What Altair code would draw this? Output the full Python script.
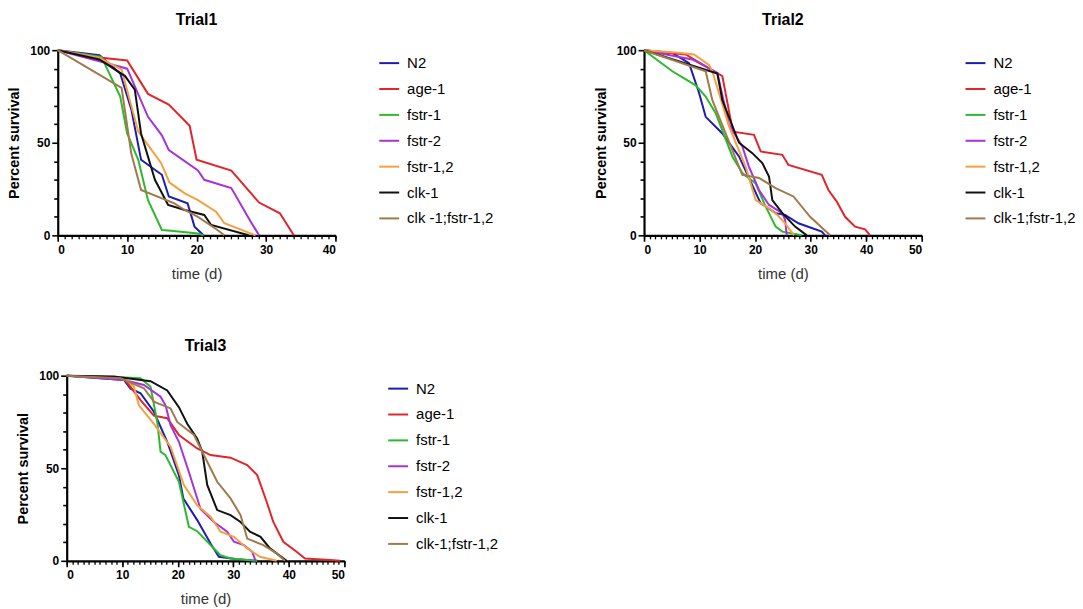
import altair as alt
import pandas as pd

STRAINS = ["N2", "age-1", "fstr-1", "fstr-2", "fstr-1,2", "clk-1", "clk-1;fstr-1,2"]
LABELS_T1 = ["N2", "age-1", "fstr-1", "fstr-2", "fstr-1,2", "clk-1", "clk -1;fstr-1,2"]
COLORS = ["#1c1cb0", "#e0262a", "#2db82d", "#a532dc", "#f5a040", "#111111", "#a07a4c"]

# ---- Trial 1 ----
T1_N2_T = [0, 6, 9, 10.6, 12, 15, 16, 18.7, 19.7, 21]
T1_N2_S = [100, 97.3, 87.4, 68, 40.8, 32.7, 21, 17.3, 4.7, 0]
T1_AGE_T = [0, 6, 10, 13, 16, 19, 20, 25, 29, 32, 34]
T1_AGE_S = [100, 96, 94.4, 76.4, 70.6, 59.2, 40.8, 35, 17.7, 11.9, 0]
T1_F1_T = [0, 6.3, 9, 10, 11.6, 13, 15, 16.3, 20.2, 21]
T1_F1_S = [100, 96.4, 75, 55, 40.8, 19, 2.9, 2.5, 1, 0]
T1_F2_T = [0, 6, 10, 13, 15, 16, 20.2, 21.1, 25, 27.8, 29]
T1_F2_S = [100, 94, 90, 64, 54, 46, 35, 30, 25.5, 7.4, 0]
T1_F12_T = [0, 6, 9.2, 11.6, 14.9, 16.1, 18.3, 20.2, 22.8, 24, 28.5]
T1_F12_S = [100, 96, 89.5, 56, 39, 28.5, 22.7, 19, 12.8, 6.5, 0]
T1_CLK_T = [0, 6, 9.7, 11.1, 12, 14, 15.9, 18.3, 21.1, 22.1, 27.5]
T1_CLK_S = [100, 95, 86, 78.7, 55, 30, 16.4, 13.7, 11, 5.6, 0]
T1_CF_T = [0, 9.2, 10.6, 12, 16.8, 18.3, 20.2, 23, 24]
T1_CF_S = [100, 79.6, 44, 24.5, 17.3, 13.7, 10, 2.9, 0]

# ---- Trial 2 ----
T2_N2_T = [0, 5.1, 8.1, 9.9, 11.1, 14.1, 17.1, 21, 23.7, 25.4, 27.8, 32, 32.6]
T2_N2_S = [100, 98.5, 93, 77, 64, 55, 42.6, 17.3, 12, 11, 6.5, 2, 0]
T2_AGE_T = [0, 7.5, 14.1, 16, 19.8, 21, 24.9, 26, 32, 33.2, 34.7, 36.2, 38, 39.8, 40.7]
T2_AGE_S = [100, 97.7, 86, 56, 54.3, 45.3, 43.5, 38, 32.7, 24.5, 18.2, 10, 4.7, 3.2, 0]
T2_F1_T = [0, 5.1, 9.3, 11.1, 12.9, 15.9, 17.7, 20.1, 21.9, 23.7, 24.9, 28.4]
T2_F1_S = [100, 88.6, 81, 75, 66, 42.6, 33.6, 28, 15.5, 4.7, 2, 0]
T2_F2_T = [0, 8.7, 13.2, 15.3, 17.7, 18.9, 20.7, 22.5, 24.9, 25.4, 25.7]
T2_F2_S = [100, 95, 87.7, 59.7, 48, 37, 24.5, 16.4, 12, 8.3, 0]
T2_F12_T = [0, 6.3, 9, 11.7, 12.3, 15.3, 18.3, 20.1, 22.5, 24, 25.4, 27]
T2_F12_S = [100, 98.6, 97.7, 92, 88.6, 59, 37, 19, 14.6, 11, 6.5, 0]
T2_CLK_T = [0, 13.2, 14.1, 17.1, 19.5, 21.3, 22.5, 23.1, 24.9, 27.2, 29.3]
T2_CLK_S = [100, 87.4, 73, 50, 44.4, 39, 31.8, 19, 12, 4.7, 0]
T2_CF_T = [0, 11.1, 12.3, 15.9, 17.7, 20.7, 23.7, 26.9, 29.9, 33.5]
T2_CF_S = [100, 88.6, 73, 46, 32.7, 31, 25.5, 21, 10, 0]

# ---- Trial 3 ----
T3_N2_T = [0, 10.3, 11.5, 13.3, 15.7, 18.1, 20.2, 21, 23.5, 24.7, 25.9, 27.4, 30.7, 34.3]
T3_N2_S = [100, 97.7, 93, 90.5, 80.5, 64.3, 46.3, 33.7, 22, 15.7, 9.4, 2.2, 0.9, 0]
T3_AGE_T = [0, 10.3, 13.3, 15.7, 18.1, 20.2, 23.5, 25.9, 29.5, 32.5, 34.3, 36, 37.2, 39, 41.4, 42.9, 47.4, 49.2]
T3_AGE_S = [100, 98.6, 86.8, 78.4, 77, 68, 60.7, 57.1, 55.7, 51.7, 46.3, 31.9, 21, 10.3, 4.9, 1.3, 0.4, 0]
T3_F1_T = [0, 10.3, 13.3, 15.1, 16.3, 16.9, 17.8, 20.2, 22, 23.5, 25.9, 27.7, 29.5, 34.3]
T3_F1_S = [100, 99, 98.6, 94, 75, 59, 57, 42.7, 18.4, 16, 8.5, 3, 1.3, 0]
T3_F2_T = [0, 10.3, 13.9, 16.9, 17.8, 18.7, 20.2, 22, 24.1, 26.5, 28.9, 30.1, 31.9, 33.4, 34]
T3_F2_S = [100, 97.7, 95, 88.6, 84, 73.3, 64.3, 48, 28, 21, 15.7, 10.3, 8.5, 4.9, 0]
T3_F12_T = [0, 10.3, 12.1, 13, 15.7, 18.7, 21.1, 23.5, 25.9, 27.7, 30.1, 32.5, 34.8, 37.8]
T3_F12_S = [100, 99, 94, 84, 74, 61.6, 40.9, 30, 23.8, 15.7, 13, 6.7, 2.2, 0]
T3_CLK_T = [0, 8.5, 15.1, 18.1, 20.2, 21.7, 23.5, 24.4, 25.3, 27.1, 29.5, 31.3, 33, 34.9, 36.6, 39, 39.6]
T3_CLK_S = [100, 99.5, 97, 92, 83, 74, 66, 59, 41, 27.4, 24.7, 21, 15.7, 13, 6.7, 1.3, 0]
T3_CF_T = [0, 9.7, 13.9, 15.7, 18.7, 19.9, 22.9, 25.3, 27.1, 29.5, 31.3, 32.5, 35.4, 37.8, 39.3]
T3_CF_S = [100, 98.6, 93.2, 86, 82.3, 75, 68, 53.5, 42.7, 33.7, 24.7, 12, 8.5, 4, 0]

Y_TICKS = list(range(0, 101, 10))

FONT = "Liberation Sans"


def make_df(series, labels):
    rows = []
    for (ts, ss), lab in zip(series, labels):
        for i, (t, s) in enumerate(zip(ts, ss)):
            rows.append({"t": t, "s": s, "strain": lab, "i": i})
    return pd.DataFrame(rows)


def panel(title, series, labels, xmax):
    df = make_df(series, labels)
    base = alt.Chart(df)
    xscale = alt.Scale(domain=[0, xmax], nice=False, zero=True)
    yscale = alt.Scale(domain=[0, 100], nice=False)
    lines = base.mark_line(strokeWidth=2, clip=False).encode(
        x=alt.X("t:Q", scale=xscale, axis=alt.Axis(
            values=list(range(0, xmax + 1, 10)), title="time (d)", orient="bottom",
            grid=False, domainColor="black", domainWidth=2.2, tickColor="black",
            tickWidth=1.6, tickSize=6, labelFontWeight="bold", labelFontSize=12,
            labelColor="black", labelPadding=3, labelFont=FONT,
            titleFont=FONT, titleFontSize=15, titleFontWeight="normal",
            titleColor="#333333", titlePadding=11)),
        y=alt.Y("s:Q", scale=yscale, axis=alt.Axis(
            values=Y_TICKS, labelExpr="datum.value % 50 === 0 ? datum.label : ''",
            title="Percent survival", orient="left",
            grid=False, domainColor="black", domainWidth=2.2, tickColor="black",
            tickWidth=1.6,
            tickSize={"condition": {"test": "datum.value % 50 === 0", "value": 6}, "value": 4},
            labelFontWeight="bold", labelFontSize=12,
            labelColor="black", labelPadding=2, labelFont=FONT,
            titleFont=FONT, titleFontSize=14.5, titleFontWeight="bold",
            titleColor="black", titlePadding=8)),
        color=alt.Color("strain:N", scale=alt.Scale(domain=labels, range=COLORS),
                        sort=labels,
                        legend=alt.Legend(title=None, symbolType="stroke",
                                          symbolSize=400, symbolStrokeWidth=2,
                                          labelFont=FONT, labelFontSize=15,
                                          labelColor="black", labelOffset=7,
                                          rowPadding=7, offset=41, padding=2)),
        order=alt.Order("i:Q"),
    )
    minor = base.mark_line(opacity=0).encode(
        x=alt.X("t:Q", scale=xscale, axis=alt.Axis(
            values=list(range(0, xmax + 1)), labels=False, domain=False,
            grid=False, title=None, orient="bottom", tickColor="black",
            tickWidth=1.3, tickSize=3.5)),
        detail="strain:N",
    )
    return alt.layer(minor, lines).resolve_scale(
        x="independent").resolve_axis(x="independent").properties(
        width=279, height=186,
        title=alt.TitleParams(title, font=FONT, fontSize=16, fontWeight="bold",
                              color="black", anchor="middle", frame="group", offset=16),
    )


S1 = [(T1_N2_T, T1_N2_S), (T1_AGE_T, T1_AGE_S), (T1_F1_T, T1_F1_S), (T1_F2_T, T1_F2_S),
      (T1_F12_T, T1_F12_S), (T1_CLK_T, T1_CLK_S), (T1_CF_T, T1_CF_S)]
S2 = [(T2_N2_T, T2_N2_S), (T2_AGE_T, T2_AGE_S), (T2_F1_T, T2_F1_S), (T2_F2_T, T2_F2_S),
      (T2_F12_T, T2_F12_S), (T2_CLK_T, T2_CLK_S), (T2_CF_T, T2_CF_S)]
S3 = [(T3_N2_T, T3_N2_S), (T3_AGE_T, T3_AGE_S), (T3_F1_T, T3_F1_S), (T3_F2_T, T3_F2_S),
      (T3_F12_T, T3_F12_S), (T3_CLK_T, T3_CLK_S), (T3_CF_T, T3_CF_S)]

p1 = panel("Trial1", S1, LABELS_T1, 40)
p2 = panel("Trial2", S2, STRAINS, 50)
p3 = panel("Trial3", S3, STRAINS, 50)

spacer = alt.Chart(pd.DataFrame({"v": [0]})).mark_point(opacity=0, size=1).encode(
    x=alt.value(0), y=alt.value(0)).properties(width=1, height=10)

row1 = alt.hconcat(p1, p2, spacing=97).resolve_scale(color="independent")
row2 = alt.hconcat(spacer, p3, spacing=8, bounds="flush").resolve_scale(color="independent")

chart = alt.vconcat(row1, row2, spacing=57).resolve_scale(color="independent").configure_view(
    stroke=None).properties(padding={"left": 6, "top": 11, "right": 5, "bottom": 5}, background="white")

chart.save("out.html", embed_options={"renderer": "svg", "actions": False})
